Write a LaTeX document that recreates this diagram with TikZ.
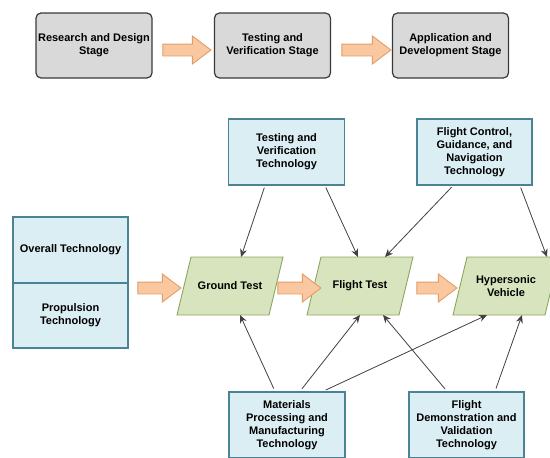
\documentclass[tikz,border=0pt]{standalone}
\usepackage{fontspec}
\setmainfont{Liberation Sans}
\usetikzlibrary{arrows.meta,shapes.arrows,backgrounds}
\definecolor{stagefill}{HTML}{D9D9D9}
\definecolor{stageline}{HTML}{3A3A3A}
\definecolor{techfill}{HTML}{DBEEF4}
\definecolor{techline}{HTML}{4A8393}
\definecolor{testfill}{HTML}{D7E4BD}
\definecolor{testline}{HTML}{8AA660}
\definecolor{flowfill}{HTML}{F9C8A0}
\definecolor{flowline}{HTML}{E39D64}
\definecolor{linkgray}{HTML}{404040}

\begin{document}
\begin{tikzpicture}[x=1pt, y=-1pt,
    every node/.style={font=\fontsize{11}{13}\selectfont\bfseries, align=center, inner sep=1pt},
    stagebox/.style={draw=stageline, line width=1.2pt, fill=stagefill, rounded corners=5pt,
        minimum width=116pt, minimum height=65pt},
    techbox/.style={draw=techline, line width=1.4pt, fill=techfill,
        minimum width=116pt, minimum height=66pt},
    testbox/.style={minimum width=92pt, minimum height=58pt, outer sep=0pt},
    testshape/.style={draw=testline, line width=0.9pt, fill=testfill},
    flow/.style={single arrow, draw=flowline, line width=0.9pt, fill=flowfill, font=\tiny,
        inner xsep=0pt, inner ysep=5.5pt, single arrow head extend=8pt, single arrow tip angle=74},
    linkarrow/.style={draw=linkgray, line width=0.8pt, -{Stealth[length=8pt,width=7pt]}, shorten <=2pt}]
    \useasboundingbox (0,0) rectangle (550,458);

    % stages
    \node[stagebox] (rds) at (94,45.5) {Research and Design\\Stage};
    \node[stagebox] (tvs) at (272.5,45.5) {Testing and\\Verification Stage};
    \node[stagebox] (ads) at (450.5,45.5) {Application and\\Development Stage};
    \node[flow, minimum height=48pt] (fa) at (183,50) {};
    \node[flow, minimum height=49pt] (fb) at (362.5,50) {};

    % technologies
    \node[techbox] (tvt) at (286.5,152) {Testing and\\Verification\\Technology};
    \node[techbox, minimum width=115pt] (fcg) at (474.5,152) {Flight Control,\\Guidance, and\\Navigation\\Technology};
    \node[techbox, minimum width=115pt] (ovt) at (70.5,250) {Overall Technology};
    \node[techbox, minimum width=115pt, minimum height=65pt] (prt) at (70.5,315.5) {Propulsion\\Technology};
    \node[techbox] (mpm) at (287,425) {Materials\\Processing and\\Manufacturing\\Technology};
    \node[techbox, minimum width=115pt] (fdv) at (466.5,425) {Flight\\Demonstration and\\Validation\\Technology};

    % tests
    \node[testbox] (gt) at (230,286) {Ground Test};
    \node[testbox] (ft) at (360,286) {Flight Test};
    \node[testbox] (hv) at (506,286) {Hypersonic\\Vehicle};
    \begin{scope}[on background layer]
        \foreach \t in {gt,ft,hv}
            \draw[testshape] ([xshift=-7pt]\t.south west) -- ([xshift=7pt]\t.north west)
                -- ([xshift=7pt]\t.north east) -- ([xshift=-7pt]\t.south east) -- cycle;
    \end{scope}
    \node[flow, minimum height=43pt] (fc) at (155.5,288) {};
    \node[flow, minimum height=43pt] (fd) at (295.5,288) {};
    \node[flow, minimum height=40pt] (fe) at (433,288) {};

    % links
    \draw[linkarrow] ([xshift=-21.5pt]tvt.south) -- ([xshift=11pt]gt.north);
    \draw[linkarrow] ([xshift=38.5pt]tvt.south) -- ([xshift=-2pt]ft.north);
    \draw[linkarrow] ([xshift=-21.5pt]fcg.south) -- ([xshift=25pt]ft.north);
    \draw[linkarrow] ([xshift=45.5pt]fcg.south) -- ([xshift=41pt]hv.north);
    \draw[linkarrow, shorten <=3pt] ([xshift=-12pt]mpm.north) -- ([xshift=10pt]gt.south);
    \draw[linkarrow, shorten <=3pt] ([xshift=13pt]mpm.north) -- ([xshift=0pt]ft.south);
    \draw[linkarrow, shorten <=3pt] ([xshift=36pt]mpm.north) -- ([xshift=-19pt]hv.south);
    \draw[linkarrow, shorten <=3pt] ([xshift=-19.5pt]fdv.north) -- ([xshift=23pt]ft.south);
    \draw[linkarrow, shorten <=3pt] ([xshift=28.5pt]fdv.north) -- ([xshift=16pt]hv.south);
\end{tikzpicture}
\end{document}
